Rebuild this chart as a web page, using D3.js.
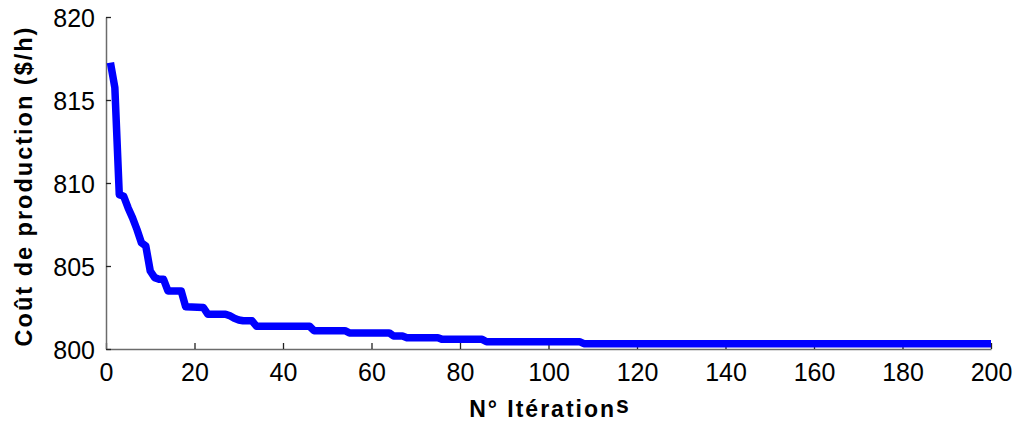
<!DOCTYPE html>
<html>
<head>
<meta charset="utf-8">
<script src="https://cdn.jsdelivr.net/npm/d3@7"></script>
<style>
  body { margin: 0; background: #fff; }
  text { font-family: "Liberation Sans", Arial, sans-serif; fill: #000; }
</style>
</head>
<body>
<svg id="chart" width="1019" height="423"></svg>
<script>
// iterations where the cost curve changes
let iterations = [1, 2, 3, 4, 5, 6, 7, 8, 9, 10, 11, 12, 13, 14, 17, 18, 22, 23, 27, 28, 29, 30, 31, 33, 34, 46, 47, 54, 55, 64, 65, 67, 68, 75, 76, 85, 86, 107, 108, 200];
let cost = [817.25, 815.75, 809.3, 809.2, 808.5, 807.9, 807.2, 806.4, 806.2, 804.7, 804.3, 804.2, 804.2, 803.5, 803.5, 802.55, 802.5, 802.1, 802.1, 802.0, 801.85, 801.75, 801.7, 801.7, 801.37, 801.37, 801.1, 801.1, 800.97, 800.97, 800.78, 800.78, 800.68, 800.68, 800.58, 800.58, 800.44, 800.44, 800.32, 800.32];
let x_ticks = [0, 20, 40, 60, 80, 100, 120, 140, 160, 180, 200];
let y_ticks = [800, 805, 810, 815, 820];
let x_label = "N° Itération";
let x_label_tail = "s";
let y_label = "Coût de production ($/h)";

let svg = d3.select("#chart");

let x = d3.scaleLinear().domain([0, 200]).range([106, 991]);
let y = d3.scaleLinear().domain([800, 820]).range([349, 17]);

// axes: left and bottom only, ticks pointing inward
let x_axis = svg.append("g")
  .attr("transform", `translate(0,${y(800)})`)
  .call(d3.axisBottom(x).tickValues(x_ticks).tickSizeInner(-6).tickSizeOuter(0).tickPadding(14));
let y_axis = svg.append("g")
  .attr("transform", `translate(${x(0)},0)`)
  .call(d3.axisLeft(y).tickValues(y_ticks).tickSizeInner(-5).tickSizeOuter(0).tickPadding(11));

[x_axis, y_axis].forEach((g) => {
  g.select(".domain").attr("stroke", "#6b6b6b").attr("stroke-width", 1.5);
  g.selectAll(".tick line").attr("stroke", "#222").attr("stroke-width", 1.3);
  g.selectAll(".tick text")
    .style("font-family", "'Liberation Sans', Arial, sans-serif")
    .style("font-size", "25px")
    .attr("fill", "#000");
});
y_axis.selectAll(".tick text").attr("dy", "0.36em");

// the cost curve
let points = iterations.map((it, i) => [it, cost[i]]);
let line = d3.line()
  .x((d) => x(d[0]))
  .y((d) => y(d[1]));

svg.append("path")
  .datum(points)
  .attr("fill", "none")
  .attr("stroke", "#0000ff")
  .attr("stroke-width", 7.5)
  .attr("stroke-linejoin", "round")
  .attr("d", line);

// axis titles
let xt = svg.append("text")
  .attr("x", 550)
  .attr("y", 417)
  .attr("text-anchor", "middle")
  .style("font-size", "23px")
  .style("font-weight", "bold")
  .style("letter-spacing", "2px")
  .text(x_label);
xt.append("tspan").attr("dy", -4).text(x_label_tail);

svg.append("text")
  .attr("transform", "translate(32,186) rotate(-90)")
  .attr("text-anchor", "middle")
  .style("font-size", "23.5px")
  .style("font-weight", "bold")
  .style("letter-spacing", "2px")
  .text(y_label);
</script>
</body>
</html>
